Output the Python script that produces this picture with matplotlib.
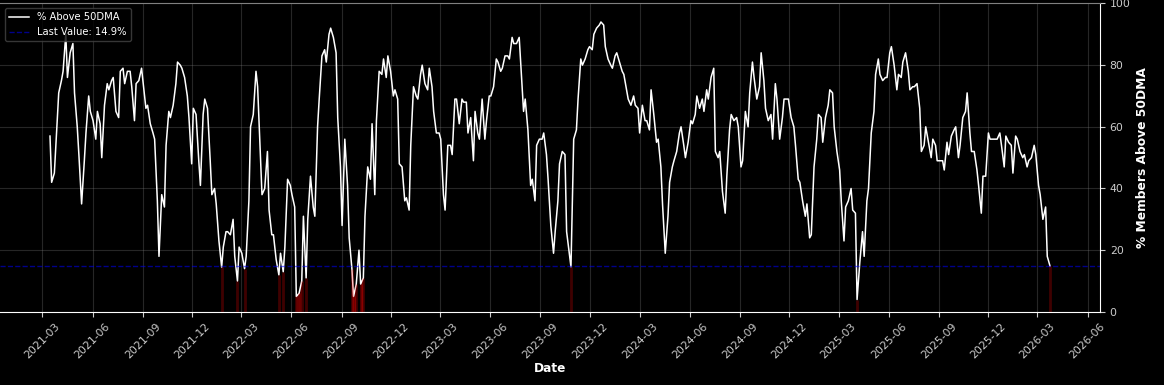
import matplotlib
matplotlib.use("Agg")
import matplotlib.pyplot as plt
import numpy as np
import pandas as pd

# % of members above their 50-day moving average, sampled every 3 business days
start_date = "2021-03-15"
pct_above = [
    57, 42, 45, 55, 71, 75, 78, 90, 76, 84,
    87, 71, 60, 51, 35, 49, 58, 70, 65, 62,
    56, 65, 61, 50, 67, 74, 72, 75, 76, 65,
    63, 78, 79, 74, 78, 78, 73, 62, 74, 75,
    79, 74, 66, 67, 61, 58, 56, 36, 18, 38,
    34, 54, 65, 63, 67, 74, 81, 80, 79, 76,
    70, 63, 48, 66, 64, 49, 41, 64, 69, 66,
    49, 38, 40, 35, 23, 14.5, 21, 26, 26, 25,
    30, 18, 10, 21, 19, 14, 18, 36, 60, 64,
    78, 73, 51, 38, 40, 52, 33, 25, 25, 17,
    12, 19, 13, 21, 43, 41, 38, 34, 5, 6,
    10, 31, 11, 30, 44, 34, 31, 60, 69, 83,
    85, 81, 90, 92, 89, 84, 63, 47, 28, 56,
    41, 24, 14, 5, 9, 20, 9, 11, 31, 47,
    43, 61, 38, 62, 78, 77, 82, 76, 83, 78,
    70, 72, 69, 48, 47, 36, 37, 33, 54, 73,
    70, 69, 77, 80, 74, 72, 79, 73, 65, 58,
    58, 56, 38, 33, 54, 54, 51, 69, 69, 61,
    69, 68, 68, 58, 63, 49, 65, 58, 56, 69,
    56, 62, 70, 70, 73, 82, 81, 78, 79, 83,
    83, 82, 89, 87, 87, 89, 80, 65, 69, 59,
    41, 43, 36, 54, 56, 56, 58, 51, 43, 28,
    19, 26, 36, 48, 52, 51, 26, 19, 14.6, 56,
    59, 69, 82, 80, 82, 85, 86, 85, 90, 92,
    93, 94, 93, 86, 82, 80, 79, 83, 84, 81,
    78, 77, 72, 69, 67, 70, 67, 66, 58, 67,
    62, 62, 59, 72, 64, 55, 56, 47, 35, 19,
    31, 42, 47, 49, 52, 58, 60, 54, 50, 55,
    62, 61, 64, 70, 66, 69, 65, 72, 69, 76,
    79, 52, 50, 52, 39, 32, 44, 59, 64, 62,
    63, 60, 47, 49, 65, 60, 71, 81, 76, 69,
    73, 84, 75, 66, 62, 64, 56, 74, 69, 56,
    63, 69, 69, 69, 63, 60, 54, 43, 42, 36,
    31, 35, 24, 25, 47, 56, 64, 63, 55, 63,
    67, 72, 71, 60, 52, 46, 36, 23, 34, 36,
    40, 33, 32, 4, 16, 26, 18, 36, 40, 58,
    65, 77, 82, 77, 75, 76, 76, 84, 86, 80,
    72, 77, 76, 81, 84, 78, 72, 73, 73, 74,
    66, 52, 54, 60, 55, 50, 56, 54, 49, 49,
    49, 46, 55, 51, 57, 59, 60, 50, 54, 63,
    65, 71, 58, 52, 52, 46, 41, 32, 44, 44,
    58, 56, 56, 56, 56, 58, 54, 47, 57, 55,
    54, 45, 57, 56, 52, 50, 51, 47, 49, 50,
    54, 51, 41, 38, 30, 34, 18, 14.9,
]
threshold = 15
last_value = pct_above[-1]

dates = pd.bdate_range(start_date, periods=len(pct_above), freq="3B")
vals = np.array(pct_above, dtype=float)
low = vals < threshold

plt.style.use("dark_background")
fig = plt.figure(figsize=(11.64, 3.85), dpi=100)
ax = fig.add_axes([0.0, 0.19, 0.945, 0.801])

ax.plot(dates, vals, color="white", lw=1.1, label="% Above 50DMA")
ax.axhline(last_value, color="blue", ls="--", lw=1, alpha=0.55,
           label=f"Last Value: {last_value}%")
ax.fill_between(dates, 0, vals, where=low, color="red", alpha=0.25, lw=0)
ax.vlines(dates[low], 0, vals[low], color="red", alpha=0.25, lw=2)

ax.set_ylim(0, 100)
ax.yaxis.tick_right()
ax.yaxis.set_label_position("right")
ax.set_ylabel("% Members Above 50DMA", fontsize=8.8, fontweight="bold")
ax.set_xlabel("Date", fontsize=8.7, fontweight="bold", labelpad=1)

ax.xaxis.set_major_locator(matplotlib.dates.MonthLocator(bymonth=[3, 6, 9, 12]))
ax.xaxis.set_major_formatter(matplotlib.dates.DateFormatter("%Y-%m"))
ax.tick_params(axis="both", labelsize=7.8, colors="#cccccc")
plt.setp(ax.get_xticklabels(), rotation=45)

ax.grid(True, color="gray", alpha=0.3, lw=0.8)
ax.spines["top"].set_color("gray")
ax.spines["left"].set_visible(False)

ax.legend(loc="upper left", fontsize=7.2, facecolor="black", edgecolor="#444444",
          framealpha=0.8)

fig.savefig("out.png", dpi=100, facecolor="black")
